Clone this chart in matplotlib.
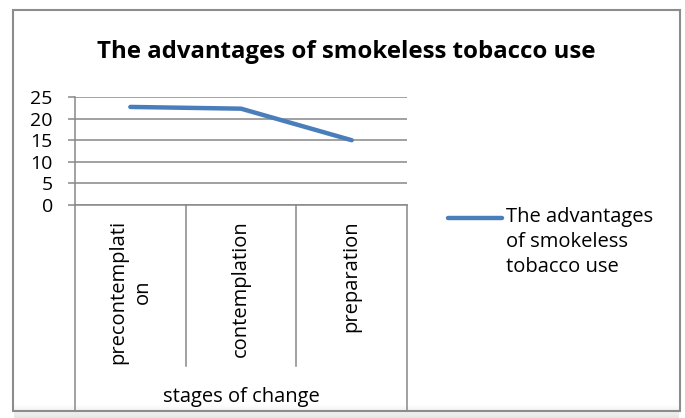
import numpy as np
import matplotlib
matplotlib.use("Agg")
import matplotlib.pyplot as plt
from matplotlib.lines import Line2D
from matplotlib.patches import Rectangle
from matplotlib.transforms import blended_transform_factory

plt.rcParams['font.family'] = ['Open Sans', 'DejaVu Sans']

title = "The advantages of smokeless tobacco use"
stages = ["precontemplati\non", "contemplation", "preparation"]
values = [22.7, 22.3, 15.0]
series_label = "The advantages\nof smokeless\ntobacco use"
axis_title = "stages of change"
yticks = [0, 5, 10, 15, 20, 25]

W, H = 685, 418
blue = "#4a7ebb"
grid_gray = "#888888"

fig = plt.figure(figsize=(W / 100, H / 100), dpi=100)


def fx(px):
    return px / W


def fy(py):
    return 1 - py / H


# chart frame
fig.add_artist(Rectangle((fx(13), fy(411)), fx(680) - fx(13), fy(10) - fy(411),
                         transform=fig.transFigure, fill=False,
                         edgecolor="#8c8c8c", lw=1.5))

# faint shadow at bottom
shadow = fig.add_axes([fx(14), 0, fx(679) - fx(14), fy(404)])
grad = np.linspace(1, 0.9, 20).reshape(-1, 1)
shadow.imshow(grad, aspect="auto", cmap="gray", vmin=0, vmax=1,
              extent=[0, 1, 0, 1], origin="upper")
shadow.axis("off")

ax = fig.add_axes([fx(75), fy(205), fx(407) - fx(75), fy(97) - fy(205)])
x = np.arange(len(stages))
ax.plot(x, values, color=blue, lw=3.2, solid_capstyle="round")
ax.set_xlim(-0.5, len(stages) - 0.5)
ax.set_ylim(0, 25)
ax.set_yticks(yticks)
ax.set_yticklabels([str(v) for v in yticks], fontsize=14)
ax.tick_params(axis="y", length=5, width=1.1, color=grid_gray, pad=11)
ax.set_xticks([])
ax.grid(axis="y", color=grid_gray, lw=1.1)
ax.set_axisbelow(True)
for side in ["top", "right"]:
    ax.spines[side].set_visible(False)
for side in ["left", "bottom"]:
    ax.spines[side].set_color(grid_gray)
    ax.spines[side].set_linewidth(1.1)

# category axis below
tr = blended_transform_factory(ax.transData, fig.transFigure)
for i in range(len(stages) + 1):
    xb = i - 0.5
    bottom = 411 if i in (0, len(stages)) else 366
    ax.add_line(Line2D([xb, xb], [fy(205), fy(bottom)], transform=tr,
                       color=grid_gray, lw=1.1, clip_on=False))
for i, s in enumerate(stages):
    ax.text(i, fy(220), s, transform=tr, rotation=90, ha="center", va="top",
            fontsize=14.5, linespacing=1.3)
ax.text((len(stages) - 1) / 2, fy(397), axis_title, transform=tr,
        ha="center", va="center", fontsize=14.5)

fig.text(fx(346), fy(52), title, ha="center", va="center",
         fontsize=17.3, fontweight="bold")

# legend
fig.add_artist(Line2D([fx(448), fx(502)], [fy(218), fy(218)],
                      transform=fig.transFigure, color=blue, lw=3.2,
                      solid_capstyle="round"))
fig.text(fx(506), fy(207), series_label, ha="left", va="top",
         fontsize=14.5, linespacing=1.33)

fig.savefig("out.png", dpi=100)
